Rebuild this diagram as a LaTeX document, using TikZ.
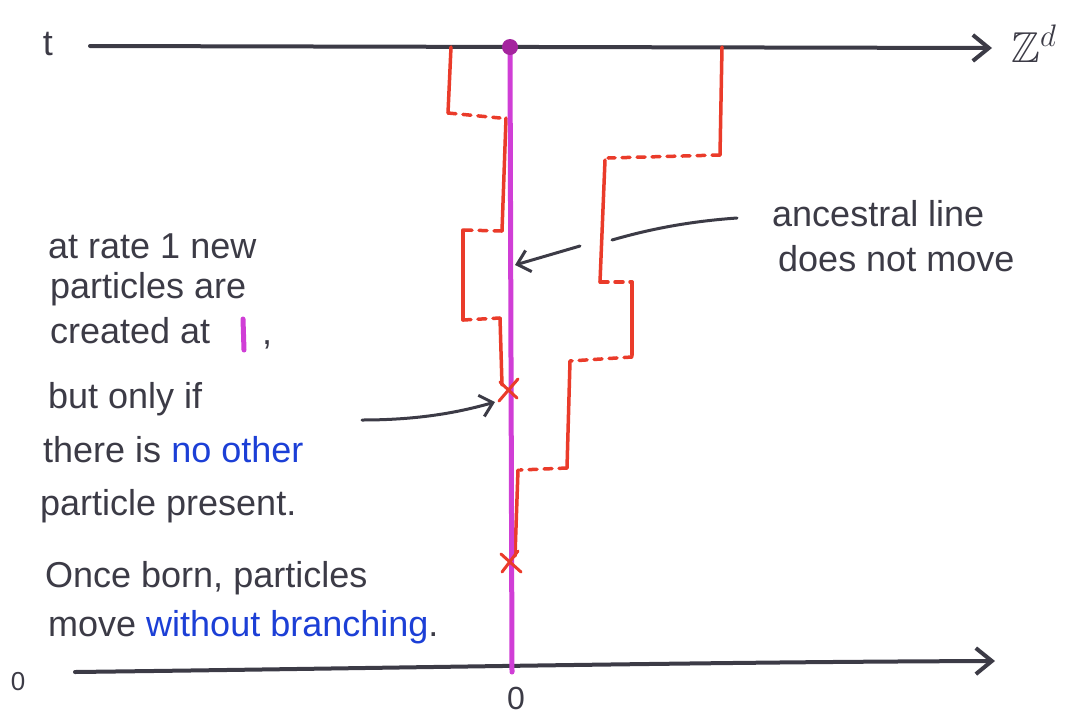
\documentclass[tikz,border=0pt]{standalone}
\usepackage{fontspec}
\usepackage{amssymb}
\setmainfont{Liberation Sans}
\usetikzlibrary{arrows.meta}
\definecolor{ink}{HTML}{3C3B46}
\definecolor{redink}{HTML}{EA3B2A}
\definecolor{magink}{HTML}{D03ED6}
\definecolor{dotink}{HTML}{A4249E}
\definecolor{blueink}{HTML}{1C3FD6}
\tikzset{
  txt/.style={anchor=base west, inner sep=0pt, text=ink, font=\fontsize{36}{40}\selectfont},
  axis/.style={draw=ink, line width=4pt, line cap=round, -{Straight Barb[length=16pt,width=26pt,line width=4pt]}},
  path/.style={draw=redink, line width=3.5pt, line cap=round},
  jump/.style={draw=redink, line width=3.5pt, line cap=round, dash pattern=on 8pt off 7pt},
  ptr/.style={draw=ink, line width=3pt, line cap=round},
  ptrh/.style={ptr, -{Straight Barb[length=12pt,width=22pt,line width=3pt]}},
  kill/.style={draw=redink, line width=3pt, line cap=round},
}
\newcommand{\blu}[1]{\textcolor{blueink}{#1}}
\begin{document}
\begin{tikzpicture}[x=1pt,y=-1pt]
\useasboundingbox (0,0) rectangle (1068,721);
% axes
\coordinate (tL) at (90,46);
\coordinate (tR) at (992,48);
\coordinate (bL) at (75,672);
\coordinate (bR) at (995,661);
\draw[axis] (tL) -- (tR);
\draw[axis] (bL) .. controls (400,668) and (700,662) .. (bR);
\node[txt, anchor=center] (tlab) at (48,44) {t};
\node[txt, anchor=center, font=\fontsize{24}{28}\selectfont] (zlab) at (1034,44) {\scalebox{1.8}{$\mathbb{Z}^d$}};
\node[txt, anchor=center, font=\fontsize{26}{30}\selectfont] (zero1) at (18,682) {0};
\node[txt, anchor=center, font=\fontsize{32}{36}\selectfont] (zero2) at (516,698) {0};
% red paths A
\draw[path] (451,47) -- (448,113);
\draw[jump] (448,113) -- (500,118);
\draw[path] (506,118) -- (502,231);
\draw[jump] (502,231) -- (462,230);
\draw[path] (463,230) -- (463,320);
\draw[jump] (463,320) -- (500,318);
\draw[path] (500,318) -- (502,385);
% red path B
\draw[path] (722,47) -- (720,155);
\draw[jump] (720,155) -- (608,158);
\draw[path] (605,160) -- (600,282);
\draw[jump] (600,282) -- (632,282);
\draw[path] (632,282) -- (632,355);
\draw[jump] (632,357) -- (570,361);
\draw[path] (570,361) -- (567,468);
\draw[jump] (567,468) -- (520,470);
\draw[path] (518,470) -- (515,556);
% ancestral (purple) line
\coordinate (top) at (510,47);
\coordinate (bot) at (512,672);
\draw[draw=magink, line width=5pt, line cap=round] (top) -- (bot);
\fill[dotink] (top) circle (8pt);
% kill marks
\coordinate (x1) at (508,390);
\coordinate (x2) at (510,562);
\draw[kill] ([shift={(-9,11)}]x1) -- ([shift={(10,-11)}]x1);
\draw[kill] ([shift={(-8,-8)}]x1) -- ([shift={(9,8)}]x1);
\draw[kill] ([shift={(-9,-8)}]x2) -- ([shift={(11,10)}]x2);
\draw[kill] ([shift={(-8,10)}]x2) -- ([shift={(8,-11)}]x2);
% left text
\node[txt] (l1) at (48,258) {at rate 1 new};
\node[txt] (l2) at (50,298) {particles are};
\node[txt] (l3) at (50,343) {created at};
\draw[draw=magink, line width=5pt, line cap=round] (243,319) -- (244,350);
\node[txt] (l3c) at (262,344) {,};
\node[txt] (l4) at (48,408) {but only if};
\node[txt] (l5) at (43,462) {there is \blu{no other}};
\node[txt] (l6) at (40,515) {particle present.};
\node[txt] (l7) at (45,587) {Once born, particles};
\node[txt] (l8) at (48,636) {move \blu{without branching}.};
% right text
\node[txt] (r1) at (772,226) {ancestral line};
\node[txt] (r2) at (778,271) {does not move};
% pointers
\coordinate (a1) at (737,218);
\coordinate (a2) at (612,240);
\coordinate (a3) at (580,246);
\coordinate (a4) at (515,265);
\draw[ptr] (a1) .. controls (680,222) and (640,232) .. (a2);
\draw[ptrh] (a3) -- (a4);
\coordinate (b1) at (362,420);
\coordinate (b2) at (495,402);
\draw[ptrh] (b1) .. controls (420,420) and (460,412) .. (b2);
\end{tikzpicture}
\end{document}
